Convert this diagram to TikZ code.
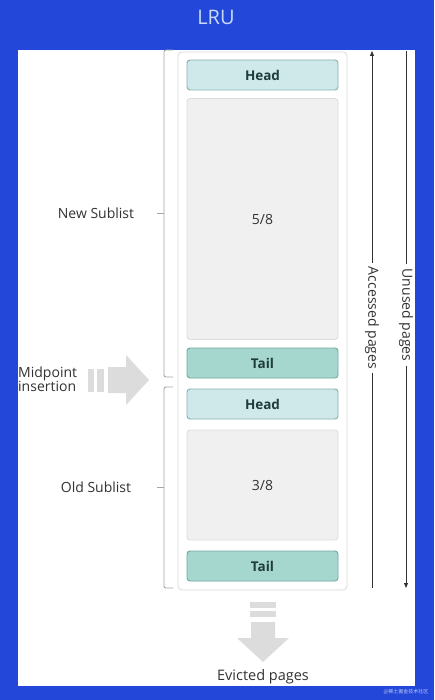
\documentclass[tikz,border=0pt]{standalone}
\usepackage{fontspec}
\setmainfont{Open Sans}
\newfontfamily\cjk{Noto Sans CJK SC}
\usetikzlibrary{arrows.meta}
\definecolor{bgblue}{HTML}{2347D9}
\definecolor{titlec}{HTML}{C8DCF8}
\definecolor{headfill}{HTML}{CFE9EB}
\definecolor{headdraw}{HTML}{86AFAB}
\definecolor{tailfill}{HTML}{A6D7CF}
\definecolor{taildraw}{HTML}{6FA89F}
\definecolor{midfill}{HTML}{F0F0F0}
\definecolor{middraw}{HTML}{DCDCDC}
\definecolor{contdraw}{HTML}{D9D9D9}
\definecolor{arrowgrey}{HTML}{DCDCDC}
\definecolor{txt}{HTML}{333333}
\definecolor{boxtxt}{HTML}{1F3D3A}
\begin{document}
\begin{tikzpicture}[x=1pt,y=-1pt,
  headbox/.style={draw=headdraw,fill=headfill,rounded corners=3pt,line width=0.9pt,minimum width=151pt,minimum height=30pt,inner sep=0pt,font=\fontsize{13.5}{15}\selectfont\bfseries,text=boxtxt},
  tailbox/.style={draw=taildraw,fill=tailfill,rounded corners=3pt,line width=0.9pt,minimum width=151pt,minimum height=30pt,inner sep=0pt,font=\fontsize{13.5}{15}\selectfont\bfseries,text=boxtxt},
  midbox/.style={draw=middraw,fill=midfill,rounded corners=3pt,line width=0.8pt,minimum width=151pt,inner sep=0pt,font=\fontsize{14}{16}\selectfont,text=txt},
  lbl/.style={font=\fontsize{14}{15}\selectfont,text=txt,inner sep=1pt},
  brace/.style={draw=gray!70,line width=0.9pt,rounded corners=2pt},
  sidearrow/.style={draw=black!80,line width=0.8pt},
  bigarrow/.style={fill=arrowgrey,draw=none}
]
\useasboundingbox (0,0) rectangle (434,700);
\fill[bgblue] (0,0) rectangle (434,700);
\fill[white] (18,50) rectangle (415,686);
\node[font=\fontsize{20}{22}\selectfont,text=titlec] (title) at (216,17) {LRU};

% container
\node[draw=contdraw,fill=white,line width=0.8pt,rounded corners=4pt,minimum width=169pt,minimum height=538pt,inner sep=0pt] (cont) at (262.5,321) {};

\node[headbox] (head1) at (262.5,75) {Head};
\node[midbox,minimum height=241pt] (new) at (262.5,219) {5/8};
\node[tailbox] (tail1) at (262.5,363) {Tail};
\node[headbox] (head2) at (262.5,404) {Head};
\node[midbox,minimum height=110pt] (old) at (262.5,485) {3/8};
\node[tailbox] (tail2) at (262.5,566) {Tail};

% braces
\coordinate (nb1) at (173,50);
\coordinate (nb2) at (173,377);
\coordinate (ob1) at (173,387);
\coordinate (ob2) at (173,588);
\draw[brace] (nb1) -- (164,50) -- (164,377) -- (nb2);
\draw[brace] (164,213) -- (157,213);
\draw[brace] (ob1) -- (164,387) -- (164,588) -- (ob2);
\draw[brace] (164,487) -- (157,487);
\node[lbl] (newl) at (96,213) {New Sublist};
\node[lbl] (oldl) at (96,487) {Old Sublist};

% midpoint arrow
\node[lbl,align=left,anchor=west,font=\fontsize{14}{14.5}\selectfont,inner sep=0pt] (mid) at (18,379) {Midpoint\\insertion};
\fill[arrowgrey] (88,369) rectangle (94,392);
\fill[arrowgrey] (97,369) rectangle (104,392);
\fill[bigarrow] (108,367) -- (126,367) -- (126,355) -- (149,380) -- (126,405) -- (126,393) -- (108,393) -- cycle;

% evicted arrow
\fill[arrowgrey] (250,602) rectangle (276,608);
\fill[arrowgrey] (250,611) rectangle (276,617);
\fill[bigarrow] (251,622) -- (275,622) -- (275,638) -- (289,638) -- (263,662) -- (237,638) -- (251,638) -- cycle;
\node[lbl,font=\fontsize{14.5}{15}\selectfont] (evict) at (263,677) {Evicted pages};

% side arrows
\node[lbl,rotate=-90,inner sep=4pt] (acc) at (372,318) {Accessed pages};
\node[lbl,rotate=-90,inner sep=4pt] (unu) at (406,315) {Unused pages};
\coordinate (acctop) at (372,51);
\coordinate (accbot) at (372,588);
\coordinate (unutop) at (406,51);
\coordinate (unubot) at (406,588);
\draw[sidearrow,-{Triangle[length=5pt,width=4pt]}] (acc.west) -- (acctop);
\draw[sidearrow] (acc.east) -- (accbot);
\draw[sidearrow] (unu.west) -- (unutop);
\draw[sidearrow,-{Triangle[length=5pt,width=4pt]}] (unu.east) -- (unubot);

% watermark
\node[font=\cjk\fontsize{5}{6}\selectfont,text=white!70!bgblue,anchor=east] (wm) at (432,692) {@稀土掘金技术社区};
\end{tikzpicture}
\end{document}
